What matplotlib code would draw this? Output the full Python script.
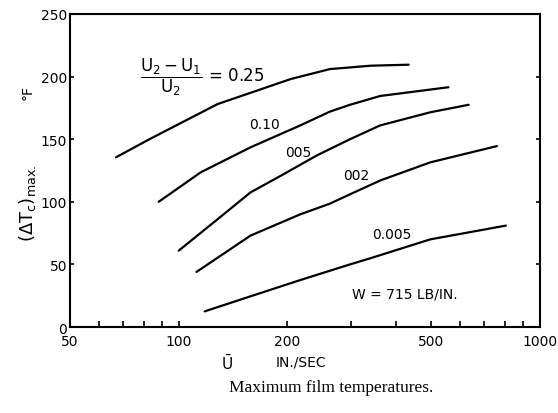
from matplotlib import pyplot as plt
from matplotlib.ticker import FixedLocator, NullFormatter
import numpy as np

# curves, U in in./sec, temperature rise in deg F
u_025 = [67, 83, 128, 204, 262, 340, 433]
t_025 = [135.5, 150, 178, 198, 206, 208.7, 209.5]

u_010 = [88, 115, 158, 217, 262, 298, 361, 558]
t_010 = [100, 123.5, 143.5, 161, 172, 177.5, 184.5, 191.5]

u_005 = [100, 128, 158, 195, 241, 298, 361, 497, 635]
t_005 = [61, 86, 107.5, 122, 137, 150, 161, 171.5, 177.5]

u_002 = [112, 158, 217, 262, 298, 361, 497, 760]
t_002 = [44, 73, 90, 98.5, 106, 117, 131.5, 144.5]

u_0005 = [118, 158, 217, 298, 340, 497, 805]
t_0005 = [12.5, 24.5, 37.5, 50, 55, 70, 81]

xticks = [50, 100, 200, 500, 1000]
xminor = [60, 70, 80, 90, 300, 400, 600, 700, 800, 900]
yticks = [0, 50, 100, 150, 200, 250]

fig = plt.figure(figsize=(5.58, 4.14), dpi=100)
ax = fig.add_axes([0.1254, 0.2077, 0.8423, 0.7561])

for u, t in [(u_025, t_025), (u_010, t_010), (u_005, t_005),
             (u_002, t_002), (u_0005, t_0005)]:
    ax.plot(u, t, color='black', lw=1.6, solid_capstyle='round',
            solid_joinstyle='round')

ax.set_xscale('log')
ax.set_xlim(50, 1000)
ax.set_ylim(0, 250)
ax.xaxis.set_major_locator(FixedLocator(xticks))
ax.xaxis.set_minor_locator(FixedLocator(xminor))
ax.xaxis.set_minor_formatter(NullFormatter())
ax.set_xticklabels([str(v) for v in xticks])
ax.set_yticks(yticks)

ax.tick_params(axis='x', which='both', direction='in', length=4, width=1.2,
               labelsize=10, pad=5)
ax.tick_params(axis='y', which='both', direction='in', length=3, width=1.2,
               labelsize=10, pad=2, right=True)
for s in ax.spines.values():
    s.set_linewidth(1.5)

# curve labels
ax.text(0.15, 0.80,
        r'$\dfrac{\mathsf{U_2 - U_1}}{\mathsf{U_2}}$ = 0.25',
        transform=ax.transAxes, fontsize=12, ha='left', va='center')
ax.text(265 / 558, 1 - 125 / 414, '0.10', transform=fig.transFigure,
        fontsize=10, ha='center', va='center')
ax.text(298 / 558, 1 - 153 / 414, '005', transform=fig.transFigure,
        fontsize=10, ha='center', va='center')
ax.text(356 / 558, 1 - 176 / 414, '002', transform=fig.transFigure,
        fontsize=10, ha='center', va='center')
ax.text(392 / 558, 1 - 235 / 414, '0.005', transform=fig.transFigure,
        fontsize=10, ha='center', va='center')
ax.text(405 / 558, 1 - 295 / 414, 'W = 715 LB/IN.', transform=fig.transFigure,
        fontsize=10, ha='center', va='center')

# axis labels
fig.text(27 / 558, 1 - 203 / 414,
         r'$(\Delta \mathsf{T_c})_{\mathsf{max.}}$', rotation=90,
         fontsize=13, ha='center', va='center')
fig.text(28 / 558, 1 - 92 / 414, '°F', rotation=90,
         fontsize=10, ha='center', va='center')
fig.text(227 / 558, 1 - 363 / 414, r'$\bar{\mathsf{U}}$', fontsize=11,
         ha='center', va='center')
fig.text(301 / 558, 1 - 363 / 414, 'IN./SEC', fontsize=10,
         ha='center', va='center')

fig.text(331 / 558, 1 - 388 / 414, 'Maximum film temperatures.',
         family='Liberation Serif', fontsize=12.5, ha='center', va='center')

plt.savefig('out.png', dpi=100)
